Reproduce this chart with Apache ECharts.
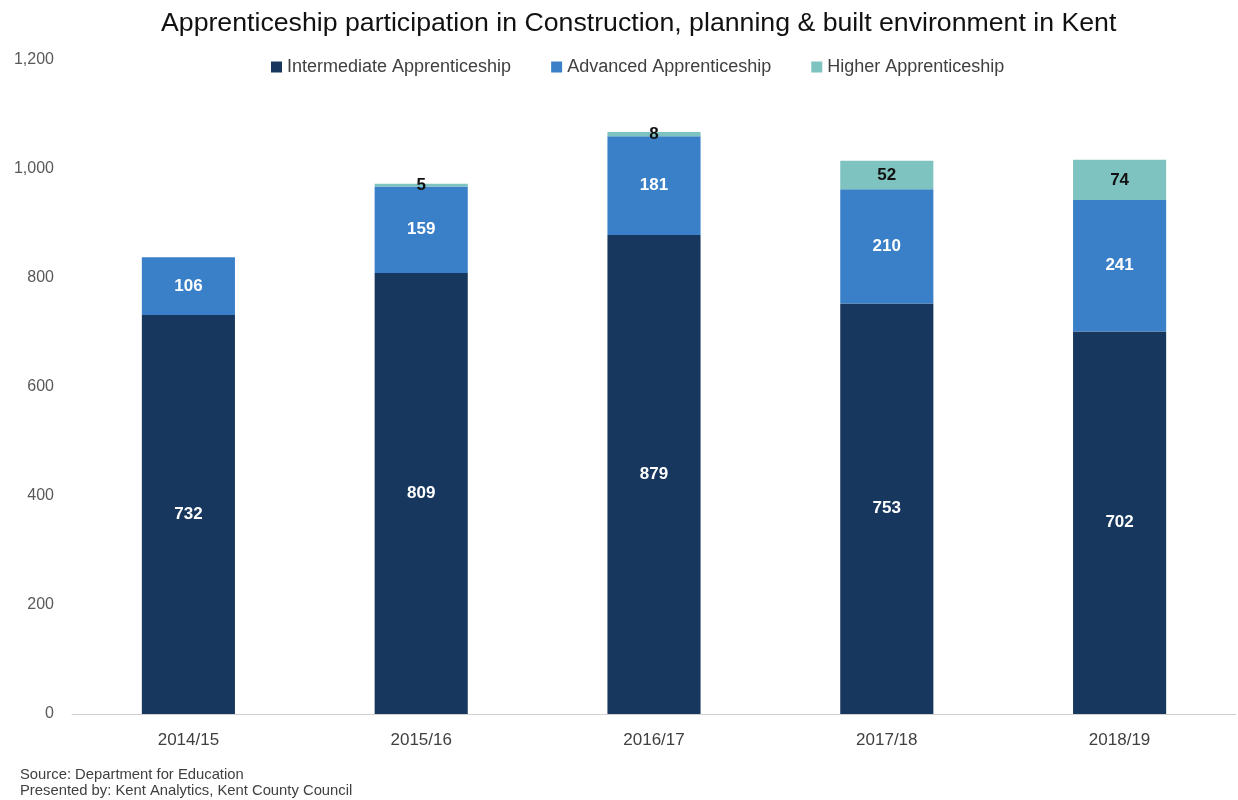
<!DOCTYPE html>
<html><head><meta charset="utf-8">
<script src="https://cdn.jsdelivr.net/npm/echarts@6/dist/echarts.min.js"></script>
<style>html,body{margin:0;padding:0;background:#fff}#c{width:1238px;height:800px}</style>
</head><body><div id="c"></div>
<script>
const categories = ['2014/15','2015/16','2016/17','2017/18','2018/19'];
const intermediate = [732, 809, 879, 753, 702];
const advanced = [106, 159, 181, 210, 241];
const higher = [null, 5, 8, 52, 74];
const seriesNames = ['Intermediate Apprenticeship','Advanced Apprenticeship','Higher Apprenticeship'];
const colors = ['#17375e','#3a80c8','#7fc3c0'];
const font = '"Liberation Sans", Arial, sans-serif';
const chart = echarts.init(document.getElementById('c'));
function mk(name, data, color, labelColor){
  return {name, type:'bar', stack:'t', data, barWidth:'40%', itemStyle:{color},
    label:{show:true, position:'inside', color:labelColor, fontSize:17, fontWeight:'bold', fontFamily:font,
      formatter: p => p.value==null ? '' : p.value}};
}
chart.setOption({
  animation:false,
  title:{text:'Apprenticeship participation in Construction, planning & built environment in Kent', left:156, top:5,
    textStyle:{fontSize:26.7, fontWeight:'normal', color:'#111', fontFamily:font}},
  legend:{top:53, left:266, itemWidth:11, itemHeight:11, itemGap:40, icon:'rect',
    textStyle:{fontSize:18, color:'#404040', fontFamily:font}},
  grid:{left:72, right:2, top:60, bottom:86},
  xAxis:{type:'category', data:categories, axisTick:{show:false},
    axisLine:{lineStyle:{color:'#d0d0d0'}},
    axisLabel:{fontSize:17, color:'#404040', margin:18, fontFamily:font}},
  yAxis:{type:'value', min:0, max:1200, interval:200, splitLine:{show:false},
    axisLabel:{fontSize:16, color:'#595959', margin:18, fontFamily:font,
      formatter: v => v.toLocaleString('en-US')}},
  series:[mk(seriesNames[0], intermediate, colors[0], '#ffffff'),
          mk(seriesNames[1], advanced, colors[1], '#ffffff'),
          mk(seriesNames[2], higher, colors[2], '#111111')],
  graphic:[{type:'text', left:20, top:767, style:{text:'Source: Department for Education\nPresented by: Kent Analytics, Kent County Council',
    fontSize:14.8, lineHeight:16, fill:'#404040', fontFamily:font}}]
});
</script></body></html>
